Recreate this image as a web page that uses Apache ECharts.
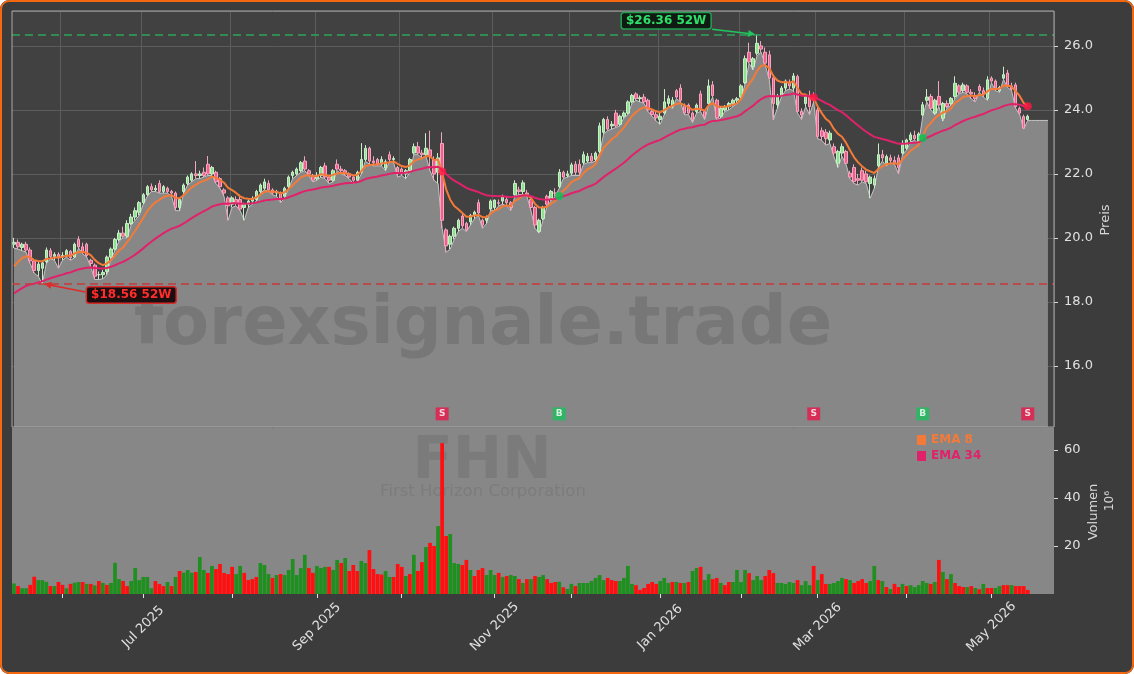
<!DOCTYPE html>
<html>
<head>
<meta charset="utf-8">
<script src="https://cdn.jsdelivr.net/npm/echarts@6/dist/echarts.min.js"></script>
<style>
html,body{margin:0;padding:0;background:#fff;}
#wrap{position:relative;width:1134px;height:674px;border-radius:9px;overflow:hidden;background:#3c3c3c;}
#main{position:absolute;left:0;top:0;width:1134px;height:674px;}
#frame{position:absolute;left:0;top:0;width:1134px;height:674px;box-sizing:border-box;border:2px solid #f5680f;border-radius:9px;pointer-events:none;}
</style>
</head>
<body>
<div id="wrap"><div id="main"></div><div id="frame"></div></div>
<script>
// FHN daily prices (USD)
var open = [
19.80,19.86,19.70,19.80,19.62,19.28,18.98,19.05,19.25,19.60,
19.42,19.48,19.40,19.45,19.58,19.40,19.95,19.72,19.80,19.30,
19.15,18.85,18.85,18.95,19.40,19.65,19.95,20.15,20.05,20.45,
20.65,20.80,21.10,21.35,21.60,21.50,21.70,21.45,21.55,21.45,
21.40,20.95,21.45,21.70,21.80,22.00,21.95,22.05,22.30,22.00,
22.05,21.85,21.50,21.25,21.05,21.20,21.20,20.95,21.05,21.15,
21.20,21.45,21.55,21.70,21.50,21.40,21.40,21.30,21.60,21.95,
22.00,22.10,22.40,22.10,21.95,21.85,21.95,22.25,21.90,21.80,
22.30,22.15,22.10,22.00,21.90,21.80,22.05,22.45,22.80,22.40,
22.45,22.30,22.18,22.60,22.45,22.20,22.15,22.00,22.10,22.65,
22.85,22.65,22.60,22.75,22.45,22.05,22.95,20.25,19.80,20.05,
20.30,20.68,20.45,20.50,20.70,21.10,20.55,20.55,20.90,20.95,
21.10,21.15,21.20,21.10,21.35,21.50,21.45,21.40,21.20,20.95,
20.20,20.60,21.30,21.20,21.40,21.60,22.05,21.95,22.02,22.30,
22.30,22.35,22.40,22.55,22.45,22.70,23.30,23.70,23.50,23.90,
23.55,23.80,23.90,24.25,24.50,24.35,24.40,24.30,23.95,23.85,
23.70,23.90,24.20,24.10,24.60,24.68,24.15,24.15,23.90,23.95,
24.50,23.95,24.20,24.78,24.30,23.80,24.00,24.10,24.20,24.30,
24.40,24.85,25.80,25.35,25.77,26.00,25.80,25.72,25.00,24.16,
24.45,24.68,24.85,24.68,25.04,23.95,24.20,24.40,24.40,24.00,
23.35,23.30,23.06,22.85,22.33,22.65,22.70,22.02,22.20,21.85,
22.10,22.00,21.70,21.65,22.25,22.60,22.33,22.50,22.42,22.50,
22.65,22.80,23.06,23.20,23.00,23.84,24.30,24.42,23.90,24.42,
23.74,24.20,24.20,24.42,24.75,24.60,24.75,24.55,24.45,24.73,
24.60,24.36,24.99,24.90,24.60,24.99,25.15,24.75,24.78,24.05,
23.79,23.70];
var high = [
20.00,19.95,19.85,19.88,19.70,19.35,19.25,19.30,19.70,19.68,
19.55,19.55,19.55,19.65,19.62,19.85,20.05,19.85,19.85,19.35,
19.20,18.95,19.00,19.45,19.70,20.00,20.25,20.35,20.55,20.75,
20.95,21.15,21.40,21.65,21.70,21.65,21.80,21.65,21.60,21.50,
21.45,21.25,21.70,21.95,22.05,22.40,22.10,22.20,22.56,22.25,
22.10,21.90,21.55,21.30,21.30,21.30,21.35,21.10,21.20,21.30,
21.50,21.70,21.85,21.80,21.55,21.50,21.45,21.60,21.95,22.10,
22.20,22.40,22.55,22.15,22.00,22.05,22.25,22.35,21.95,22.15,
22.45,22.25,22.15,22.05,21.95,22.10,22.96,22.90,22.85,22.55,
22.50,22.55,22.45,22.70,22.55,22.25,22.20,22.15,22.50,22.95,
23.00,22.75,23.27,23.35,22.55,22.65,23.30,20.30,20.10,20.35,
20.60,20.75,20.50,20.75,20.85,21.20,20.60,20.70,21.20,21.20,
21.20,21.35,21.30,21.15,21.80,21.60,21.80,21.50,21.25,21.00,
20.60,21.00,21.35,21.50,21.55,22.15,22.10,22.10,22.35,22.40,
22.45,22.70,22.65,22.65,22.70,23.60,23.75,23.80,23.65,24.00,
23.85,23.95,24.30,24.50,24.55,24.45,24.50,24.35,24.00,23.95,
23.90,24.65,24.45,24.40,24.65,24.80,24.20,24.20,23.95,24.20,
24.60,24.00,24.95,24.90,24.35,24.10,24.15,24.25,24.35,24.40,
24.80,25.70,26.10,25.65,26.36,26.15,25.95,25.85,25.10,24.50,
24.75,24.95,24.95,25.15,25.10,24.05,24.45,24.60,24.55,24.10,
23.45,23.40,23.35,22.95,22.75,22.95,22.75,22.10,22.30,22.00,
22.20,22.10,21.95,21.95,22.95,22.75,22.60,22.60,22.55,22.60,
23.05,23.10,23.30,23.35,23.30,24.25,24.65,24.50,24.35,24.90,
24.25,24.30,24.40,25.05,24.80,24.85,24.80,24.65,24.55,24.80,
24.70,25.05,25.05,24.95,24.75,25.35,25.25,24.85,24.85,24.10,
23.85,23.85];
var low = [
19.68,19.65,19.60,19.55,19.20,18.90,18.80,18.56,19.20,19.35,
19.30,19.05,19.30,19.40,19.30,19.38,19.68,19.50,19.40,19.10,
18.70,18.70,18.72,18.85,19.35,19.60,19.90,20.00,20.00,20.40,
20.55,20.70,21.05,21.30,21.45,21.45,21.40,21.40,21.40,21.30,
20.85,20.85,21.40,21.65,21.75,21.85,21.85,21.90,21.95,21.95,
21.70,21.55,21.30,20.55,20.95,21.00,20.85,20.55,20.95,21.05,
21.15,21.40,21.50,21.45,21.35,21.30,21.10,21.25,21.55,21.85,
21.95,22.05,22.10,21.95,21.75,21.80,21.90,21.85,21.70,21.75,
22.10,22.00,21.95,21.85,21.70,21.75,22.00,22.40,22.30,22.25,
22.25,22.25,22.10,22.40,22.35,21.90,21.95,21.85,22.05,22.60,
22.60,22.50,22.55,22.10,21.80,21.70,20.30,19.55,19.65,19.95,
20.20,20.30,20.20,20.40,20.60,20.70,20.30,20.45,20.85,20.85,
21.00,21.05,21.00,20.85,21.30,21.35,21.35,21.30,20.85,20.30,
20.15,20.55,21.00,21.15,21.30,21.55,21.85,21.90,21.95,21.95,
21.95,22.30,22.35,22.35,22.40,22.65,23.25,23.35,23.40,23.45,
23.50,23.75,23.85,24.20,24.30,24.25,24.20,23.95,23.80,23.65,
23.55,23.85,24.10,24.05,24.35,24.25,23.85,23.85,23.60,23.90,
23.95,23.70,24.15,24.40,23.70,23.75,23.95,24.00,24.10,24.20,
24.35,24.80,25.45,25.25,25.70,25.80,25.40,24.95,23.69,24.05,
24.40,24.60,24.65,24.60,23.90,23.70,24.10,23.85,24.25,23.10,
23.05,22.90,22.95,22.55,22.20,22.55,22.30,21.85,21.70,21.65,
21.75,21.70,21.24,21.55,22.20,22.40,22.25,22.35,22.30,22.00,
22.60,22.75,23.00,23.05,22.95,23.80,24.25,24.00,23.85,24.10,
23.65,24.05,24.15,24.35,24.50,24.55,24.50,24.35,24.25,24.55,
24.40,24.30,24.85,24.60,24.55,24.95,24.70,24.60,24.05,23.85,
23.40,23.67];
var close = [
19.86,19.72,19.80,19.62,19.28,18.98,19.18,19.22,19.62,19.42,
19.48,19.40,19.45,19.60,19.38,19.80,19.72,19.55,19.45,19.20,
18.80,18.85,18.92,19.40,19.65,19.95,20.15,20.05,20.45,20.65,
20.85,21.10,21.35,21.60,21.50,21.55,21.45,21.60,21.45,21.40,
20.95,21.20,21.65,21.90,22.00,21.95,22.00,21.95,22.00,22.20,
21.75,21.60,21.40,21.00,21.25,21.10,20.90,21.05,21.15,21.20,
21.45,21.65,21.75,21.50,21.40,21.45,21.20,21.55,21.90,22.05,
22.15,22.35,22.15,22.00,21.80,21.95,22.20,21.90,21.80,22.10,
22.15,22.10,22.00,21.90,21.80,22.05,22.45,22.80,22.40,22.35,
22.30,22.45,22.38,22.45,22.48,22.05,22.00,22.10,22.45,22.85,
22.65,22.60,22.80,22.55,22.00,22.50,20.55,19.75,20.05,20.30,
20.55,20.38,20.25,20.70,20.80,20.78,20.40,20.62,21.15,21.18,
21.08,21.30,21.10,20.95,21.70,21.45,21.72,21.35,20.95,20.40,
20.55,20.95,21.05,21.45,21.40,22.05,21.90,22.00,22.28,22.05,
22.05,22.60,22.55,22.40,22.65,23.50,23.70,23.40,23.55,23.50,
23.80,23.90,24.25,24.45,24.35,24.38,24.25,24.00,23.85,23.75,
23.80,24.25,24.35,24.30,24.40,24.30,23.90,23.90,23.70,24.15,
24.00,23.78,24.75,24.45,23.75,24.05,24.10,24.20,24.30,24.35,
24.75,25.60,25.50,25.60,26.08,25.90,25.46,25.00,24.20,24.42,
24.68,24.90,24.75,25.06,23.95,23.84,24.42,24.10,24.30,23.17,
23.17,23.10,23.27,22.65,22.70,22.85,22.33,21.90,21.76,21.80,
21.80,21.75,21.90,21.85,22.60,22.50,22.54,22.42,22.35,22.20,
22.96,23.06,23.22,23.10,23.25,24.16,24.40,24.05,24.30,24.15,
24.20,24.10,24.36,24.83,24.55,24.78,24.55,24.50,24.35,24.60,
24.50,24.94,24.90,24.65,24.70,25.10,24.73,24.65,24.10,23.90,
23.43,23.80];
// volume in millions of shares
var volume = [
4.4,3.3,2.4,2.4,3.8,7.2,5.8,5.8,5.1,3.3,
3.3,5,3.8,2.4,4.2,4.7,5,5,4.2,4.2,
3.6,5.4,4.6,3.8,4.6,13,6.2,5.4,3.3,5.4,
10.8,5.8,7.1,7.1,2.4,5.4,4.2,3.3,5,3.3,
7.1,9.6,8.9,10,8.9,9.2,15.4,10,8.8,11.7,
10.4,12.5,8.8,8.3,11.3,8.3,11.7,8.8,5.8,6.2,
7.1,12.9,12.1,8.3,6.7,7.9,8.3,7.9,10,14.6,
7.9,10.8,16.3,10.8,8.8,11.7,10.8,11.3,11.3,10,
14.2,12.9,15,9.6,12.1,9.6,13.8,12.9,18.3,10.4,
8.3,8.1,9.6,7.1,7.1,12.5,11.3,7.5,8.3,16.3,
9.6,13.3,19.6,21.3,20,28.3,62.9,24.2,25,12.9,
12.5,12.1,14.2,10,7.5,10,10.8,7.9,10,7.9,
8.8,7.1,7.5,7.9,7.5,6.2,4.6,6.2,6.2,7.5,
7.1,7.9,6.2,4.6,5,5.1,2.8,2.1,4.2,3.3,
4.6,4.6,4.6,5.4,6.7,7.9,5.8,6.7,5.8,5.4,
5.4,6.7,11.7,4.2,3.7,1.7,2.5,4.2,5,4.2,
5.4,6.7,4.6,5,5,4.6,4.6,5,9.6,10.8,
11.3,5.8,8.3,6.2,6.7,4.6,3.7,5,5,10,
5,10,8.7,5.8,7.5,5.8,7.5,10,8.7,4.6,
4.6,4.2,5,4.6,5.8,3.7,5.4,3.7,11.7,5.8,
8.3,4.2,4.2,4.6,5.4,6.7,6.2,5.8,4.6,5.4,
6.2,4.6,5.4,11.7,5.8,5.4,2.9,2.1,4.2,2.9,
4.2,3.3,3.7,2.9,3.7,5.4,4.6,4.2,5,14.2,
9.2,6.2,8.3,4.6,3.3,2.9,2.9,3.3,2.5,2.0,
4.2,2.5,2.5,2.5,3.3,3.7,3.7,3.7,3.3,3.3,
3.3,1.7];
// g = green volume bar, r = red volume bar
var volumeDir = (
'grggrrgggr'+'grrgrggrgr'+'grgrgggrrg'+'gggggrrrgr'+'grgggrggrg'+
'rrrrrggrrr'+'rgggrgrggg'+'gggrrgggrg'+'grgrrrggrr'+'rrggrrrgrg'+
'rrgrrgrrgg'+'grrgrrrggg'+'rgrggrgrgr'+'ggrrrgrggr'+'gggggggrrr'+
'ggggrrrrrr'+'gggrgrgrgg'+'rggrrgrrgg'+'ggrgggrrrg'+'ggggrgggrg'+
'rrggggrgrr'+'rrggrgrgrr'+'grgggggrgr'+'grgrrrgrgr'+'grrggrrgrr'+'rr').split('');

// EMA crossover signals (index into the series)
var signalIdx = [106, 135, 198, 225, 251];
var signalType = ['S', 'B', 'S', 'B', 'S'];

// EMA values just before the first shown day (read from the left edge)
var ema8Seed = 18.9;
var ema34Seed = 18.17;

var holidays = ['2025-05-26','2025-06-19','2025-07-04','2025-09-01','2025-11-27',
  '2025-12-25','2026-01-01','2026-01-19','2026-02-16','2026-04-03'];
var monthNames = ['Jan','Feb','Mar','Apr','May','Jun','Jul','Aug','Sep','Oct','Nov','Dec'];

function tradingDays(start, n) {
  var out = [];
  var d = new Date(start + 'T12:00:00Z');
  while (out.length < n) {
    var s = d.toISOString().slice(0, 10);
    var wd = d.getUTCDay();
    if (wd !== 0 && wd !== 6 && holidays.indexOf(s) < 0) out.push(s);
    d.setUTCDate(d.getUTCDate() + 1);
  }
  return out;
}
function ema(src, period, seed) {
  var k = 2 / (period + 1), prev = seed;
  return src.map(function (v) { prev = v * k + prev * (1 - k); return +prev.toFixed(4); });
}

var dates = tradingDays('2025-05-14', close.length);
var PAD = 6;
var cats = dates.slice();
for (var p = 0; p < PAD; p++) cats.push('pad' + p);
var monthStart = cats.map(function (c, i) {
  return i > 0 && i < dates.length && c.slice(5, 7) !== cats[i - 1].slice(5, 7);
});
var labelMonth = cats.map(function (c, i) {
  return monthStart[i] && (+c.slice(5, 7)) % 2 === 1;
});

var ema8 = ema(close, 8, ema8Seed);
var ema34 = ema(close, 34, ema34Seed);

var candles = open.map(function (o, i) { return [o, close[i], low[i], high[i]]; });
var lowArea = low.slice();
for (var q = 0; q < PAD - 1; q++) lowArea.push(low[low.length - 1]);

var UP_VOL = '#1f8f1f', DN_VOL = '#ff0f0f';
var volData = volume.map(function (v, i) {
  return { value: v, itemStyle: { color: volumeDir[i] === 'g' ? UP_VOL : DN_VOL } };
});

var SIGNAL_ROW = 14.5;
var sigMarks = signalIdx.map(function (i, n) {
  return {
    value: [i, SIGNAL_ROW],
    itemStyle: { color: signalType[n] === 'S' ? '#e8194c' : '#1cbf5c' },
    label: { formatter: signalType[n] }
  };
});
var sigDots = signalIdx.map(function (i, n) {
  return {
    value: [i, +((ema8[i] + ema34[i]) / 2).toFixed(3)],
    itemStyle: { color: signalType[n] === 'S' ? '#ff1744' : '#00c853' }
  };
});

var hi52 = Math.max.apply(null, high), lo52 = Math.min.apply(null, low);
var FONT = '"DejaVu Sans", sans-serif';
var EMA8_COLOR = '#f47a38', EMA34_COLOR = '#e0226a';

var chart = echarts.init(document.getElementById('main'));
var option = {
  animation: false,
  backgroundColor: 'transparent',
  textStyle: { fontFamily: FONT },
  grid: [
    { left: 12, top: 11, width: 1042, height: 416, show: true, backgroundColor: '#414141', borderWidth: 0 },
    { left: 12, top: 428, width: 1042, height: 166, show: true, backgroundColor: '#878787', borderWidth: 0 }
  ],
  legend: {
    left: 912, top: 429, orient: 'vertical', icon: 'rect',
    itemWidth: 9, itemHeight: 10, itemGap: 4,
    textStyle: { fontSize: 12, fontWeight: 'bold', fontFamily: FONT },
    data: [
      { name: 'EMA 8', textStyle: { color: EMA8_COLOR } },
      { name: 'EMA 34', textStyle: { color: EMA34_COLOR } }
    ]
  },
  xAxis: [
    {
      type: 'category', gridIndex: 0, data: cats, boundaryGap: true,
      axisLine: { show: false }, axisTick: { show: false }, axisLabel: { show: false },
      splitLine: { show: true, interval: function (i) { return monthStart[i]; }, lineStyle: { color: '#5c5c5c', width: 1 } }
    },
    {
      type: 'category', gridIndex: 1, data: cats, boundaryGap: true,
      axisLine: { show: false },
      axisTick: { show: true, alignWithLabel: true, length: 4, interval: function (i) { return monthStart[i]; }, lineStyle: { color: '#e0e0e0' } },
      axisLabel: {
        show: true, rotate: 45, align: 'center', verticalAlign: 'middle', margin: 33,
        color: '#e0e0e0', fontSize: 13, fontFamily: FONT,
        interval: function (i) { return labelMonth[i]; },
        formatter: function (v) { return monthNames[+v.slice(5, 7) - 1] + ' ' + v.slice(0, 4); }
      },
      splitLine: { show: false }
    }
  ],
  yAxis: [
    {
      type: 'value', gridIndex: 0, position: 'right', min: 14.09, max: 27.09, splitNumber: 6,
      axisLine: { show: false },
      axisTick: { show: true, length: 4, lineStyle: { color: '#d8d8d8' } },
      axisLabel: { color: '#e0e0e0', fontSize: 13, fontFamily: FONT, margin: 10, showMinLabel: false, showMaxLabel: false,
        formatter: function (v) { return v.toFixed(1); } },
      splitLine: { show: true, lineStyle: { color: '#5c5c5c', width: 1 } }
    },
    {
      type: 'value', gridIndex: 1, position: 'right', min: 0, max: 69.2, interval: 20,
      axisLine: { show: false },
      axisTick: { show: true, length: 4, lineStyle: { color: '#d8d8d8' } },
      axisLabel: { color: '#e0e0e0', fontSize: 13, fontFamily: FONT, margin: 10, showMinLabel: false, showMaxLabel: false },
      splitLine: { show: false }
    }
  ],
  series: [
    {
      name: 'area', type: 'line', xAxisIndex: 0, yAxisIndex: 0, data: lowArea, z: 1,
      symbol: 'none', silent: true,
      lineStyle: { color: '#c4c4c4', width: 1 },
      areaStyle: { color: '#878787', opacity: 1, origin: 'start' }
    },
    {
      name: 'FHN', type: 'candlestick', xAxisIndex: 0, yAxisIndex: 0, data: candles, z: 3,
      barWidth: 3,
      itemStyle: { color: '#8fe38f', color0: '#f0608c', borderColor: '#c9eec9', borderColor0: '#f3a6bd', borderWidth: 1 },
      markLine: {
        silent: true, symbol: 'none', label: { show: false }, z: 6,
        data: [
          { yAxis: hi52, lineStyle: { color: '#2fa35a', type: [8, 5], width: 1.5 } },
          { yAxis: lo52, lineStyle: { color: '#c83a3a', type: [8, 5], width: 1.5 } }
        ]
      }
    },
    {
      name: 'EMA 8', type: 'line', xAxisIndex: 0, yAxisIndex: 0, data: ema8, z: 4,
      symbol: 'none', color: EMA8_COLOR, lineStyle: { color: EMA8_COLOR, width: 2 }
    },
    {
      name: 'EMA 34', type: 'line', xAxisIndex: 0, yAxisIndex: 0, data: ema34, z: 4,
      symbol: 'none', color: EMA34_COLOR, lineStyle: { color: EMA34_COLOR, width: 2 }
    },
    {
      name: 'cross', type: 'scatter', xAxisIndex: 0, yAxisIndex: 0, data: sigDots, z: 5,
      symbol: 'circle', symbolSize: 8
    },
    {
      name: 'signal', type: 'scatter', xAxisIndex: 0, yAxisIndex: 0, data: sigMarks, z: 5,
      symbol: 'rect', symbolSize: 13,
      label: { show: true, position: 'inside', color: '#fff', fontWeight: 'bold', fontSize: 9, fontFamily: FONT }
    },
    {
      name: 'Volumen', type: 'bar', xAxisIndex: 1, yAxisIndex: 1, data: volData, z: 3,
      barWidth: '92%'
    }
  ]
};
chart.setOption(option);

function arrow(x1, y1, x2, y2, color) {
  var a = Math.atan2(y2 - y1, x2 - x1), L = 7, W = 3.5;
  var bx = x2 - L * Math.cos(a), by = y2 - L * Math.sin(a);
  return [
    { type: 'line', z: 20, shape: { x1: x1, y1: y1, x2: bx, y2: by }, style: { stroke: color, lineWidth: 1.5 } },
    { type: 'polygon', z: 20, shape: { points: [[x2, y2], [bx + W * Math.sin(a), by - W * Math.cos(a)], [bx - W * Math.sin(a), by + W * Math.cos(a)]] }, style: { fill: color } }
  ];
}
function tag(x, y, text, fg, bg, border) {
  return { type: 'text', z: 21, x: x, y: y, style: {
    text: text, fill: fg, font: 'bold 12px ' + FONT,
    align: 'center', verticalAlign: 'middle', textAlign: 'center', textVerticalAlign: 'middle',
    backgroundColor: bg, borderColor: border, borderWidth: 1.5, borderRadius: 2, padding: [2, 4, 1, 4]
  } };
}
function plain(x, y, text, font, fill, z, rot) {
  return { type: 'text', z: z, x: x, y: y, rotation: rot || 0, style: {
    text: text, font: font, fill: fill,
    align: 'center', verticalAlign: 'middle', textAlign: 'center', textVerticalAlign: 'middle'
  } };
}

var hiIdx = high.indexOf(hi52), loIdx = low.indexOf(lo52);
var hp = chart.convertToPixel({ xAxisIndex: 0, yAxisIndex: 0 }, [hiIdx, hi52]);
var lp = chart.convertToPixel({ xAxisIndex: 0, yAxisIndex: 0 }, [loIdx, lo52]);

var g = [];
g.push(plain(483, 327, 'forexsignale.trade', 'bold 67px ' + FONT, 'rgba(40,40,40,0.16)', 2));
g.push(plain(482, 463, 'FHN', 'bold 59px ' + FONT, 'rgba(40,40,40,0.12)', 2));
g.push(plain(483, 492, 'First Horizon Corporation', '16.5px ' + FONT, 'rgba(40,40,40,0.11)', 2));
g.push(plain(1106, 220, 'Preis', '13px ' + FONT, '#d8d8d8', 10, Math.PI / 2));
g.push(plain(1094, 512, 'Volumen', '13px ' + FONT, '#d8d8d8', 10, Math.PI / 2));
g.push(plain(1110, 501, '10\u2076', '12px ' + FONT, '#d8d8d8', 10, Math.PI / 2));
g.push({ type: 'rect', z: 15, shape: { x: 12, y: 11, width: 1042, height: 416 }, style: { fill: 'none', stroke: '#a9a9a9', lineWidth: 1 } });
g = g.concat(arrow(hp[0] - 45, hp[1] - 5, hp[0] - 2, hp[1], '#22c55e'));
g.push(tag(hp[0] - 91, hp[1] - 13.5, '$' + hi52.toFixed(2) + ' 52W', '#2ee06a', '#0f1a12', '#22a050'));
g = g.concat(arrow(lp[0] + 43, lp[1] + 8, lp[0] + 2, lp[1], '#e02a2a'));
g.push(tag(lp[0] + 89, lp[1] + 11, '$' + lo52.toFixed(2) + ' 52W', '#ff2d2d', '#1c0e0e', '#d42a2a'));
chart.setOption({ graphic: g });
</script>
</body>
</html>
